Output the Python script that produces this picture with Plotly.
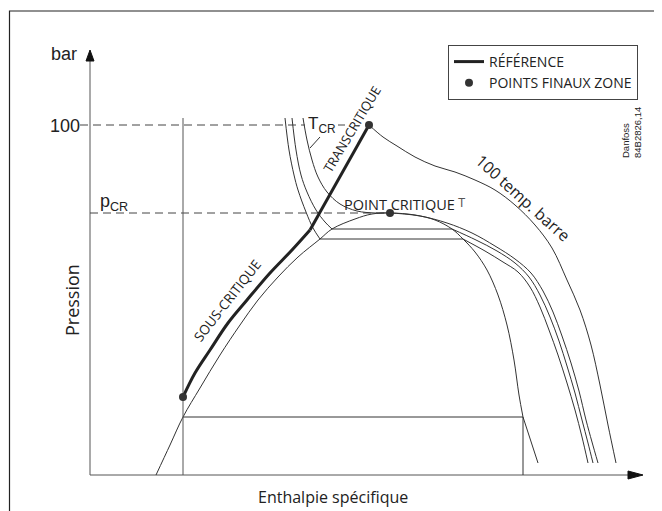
import plotly.graph_objects as go

# Schematic p-h diagram, units: h = enthalpy (schematic), p = pressure (schematic)
dome_h = [66, 80, 93, 110, 130, 150, 168, 188, 208, 230, 242, 265, 282, 300, 325, 345, 362, 373, 385, 397, 408, 417, 424, 429, 433]
dome_p = [0, 30, 58, 87, 120, 150, 175, 198, 218, 236, 246, 256, 261, 262, 260, 255, 246, 236, 223, 205, 180, 150, 115, 80, 58]
dome_tail_h = [433, 448]
dome_tail_p = [58, 12]

iso1_left_h = [195, 199, 204, 208, 216, 223, 230]
iso1_left_p = [357, 325, 300, 285, 263, 247, 236]
iso1_right_h = [373, 395, 413, 428, 440, 450, 459, 468, 477, 485, 492, 498]
iso1_right_p = [236, 224, 213, 203, 188, 168, 145, 120, 92, 65, 38, 12]

iso2_left_h = [202, 206, 211, 217, 226, 235, 242]
iso2_left_p = [357, 325, 300, 283, 265, 253, 246]
iso2_right_h = [362, 386, 407, 425, 439, 450, 460, 469, 477, 485, 492, 498, 503]
iso2_right_p = [246, 235, 224, 212, 198, 180, 158, 134, 109, 82, 55, 32, 12]

tcr_h = [213, 217, 222, 228, 237, 250, 267, 285, 300, 330, 357, 382, 405, 425, 441, 453, 463, 472, 481, 489, 496, 502, 508]
tcr_p = [357, 335, 315, 298, 283, 271, 264, 262, 262, 259, 252, 242, 229, 216, 202, 184, 163, 139, 112, 84, 55, 33, 12]

iso100_h = [279, 293, 307, 325, 345, 365, 385, 405, 425, 445, 462, 477, 490, 501, 510, 518, 526]
iso100_p = [350, 338, 329, 318, 309, 303, 295, 285, 270, 250, 227, 195, 165, 130, 90, 50, 12]

ref_curve_h = [93, 105, 120, 138, 157, 180, 202, 220]
ref_curve_p = [78, 102, 125, 152, 175, 202, 225, 245]
ref_line_h = [220, 279]
ref_line_p = [245, 350]

end_h = [93, 279, 300]
end_p = [78, 350, 262]

p100 = 350
p100_segments = [(-10, 215), (248, 255)]
p_cr = 262
h_cr = 300
plateau_p = [236, 246]
plateau_h0 = [230, 242]
plateau_h1 = [373, 362]
evap_p = 58
evap_h = [93, 433]
comp_h = 93
comp_top = 357
x_end = 553
y_end = 425

W, H = 654, 503

thin = dict(color="#333", width=1)
fig = go.Figure()

def add(h, p, line, shape="spline", **kw):
    fig.add_trace(go.Scatter(x=h, y=p, mode="lines", line=dict(shape=shape, **line),
                             hoverinfo="skip", showlegend=False, **kw))

# axes
add([0, 0], [0, y_end - 10], dict(color="#555", width=1), shape="linear")
add([0, x_end - 12], [0, 0], dict(color="#555", width=1), shape="linear")
fig.add_trace(go.Scatter(x=[-4, 4, 0, -4], y=[y_end - 11, y_end - 11, y_end, y_end - 11], mode="lines",
                         fill="toself", fillcolor="#111", line=dict(color="#111", width=1),
                         hoverinfo="skip", showlegend=False))
fig.add_trace(go.Scatter(x=[x_end - 15, x_end - 15, x_end, x_end - 15], y=[-4, 4, 0, -4], mode="lines",
                         fill="toself", fillcolor="#111", line=dict(color="#111", width=1),
                         hoverinfo="skip", showlegend=False))

# dashed reference lines
for a, b in p100_segments:
    add([a, b], [p100, p100], dict(color="#444", width=1, dash="8px,5px"), shape="linear")
add([0, h_cr], [p_cr, p_cr], dict(color="#444", width=1, dash="8px,5px"), shape="linear")

# dome
add(dome_h, dome_p, thin)
add(dome_tail_h, dome_tail_p, thin, shape="linear")

# isotherms
add(iso1_left_h, iso1_left_p, thin)
add(iso1_right_h, iso1_right_p, thin)
add(iso2_left_h, iso2_left_p, thin)
add(iso2_right_h, iso2_right_p, thin)
add(tcr_h, tcr_p, thin)
add(iso100_h, iso100_p, thin)
for pp, a, b in zip(plateau_p, plateau_h0, plateau_h1):
    add([a, b], [pp, pp], thin, shape="linear")

# cycle lines
add(evap_h, [evap_p, evap_p], thin, shape="linear")
add([comp_h, comp_h], [0, comp_top], dict(color="#555", width=1), shape="linear")
add([evap_h[1], evap_h[1]], [0, evap_p], thin, shape="linear")

# T_CR leader
add([220, 230], [327, 338], thin, shape="linear")

# reference line
fig.add_trace(go.Scatter(x=ref_curve_h, y=ref_curve_p, mode="lines", name="RÉFÉRENCE",
                         line=dict(color="#222", width=3, shape="spline"), legendgroup="ref",
                         hoverinfo="skip"))
fig.add_trace(go.Scatter(x=ref_line_h, y=ref_line_p, mode="lines", showlegend=False,
                         line=dict(color="#222", width=3), legendgroup="ref", hoverinfo="skip"))
fig.add_trace(go.Scatter(x=end_h, y=end_p, mode="markers", name="POINTS FINAUX ZONE",
                         marker=dict(color="#333", size=8), hoverinfo="skip"))

myr = "Open Sans"
ari = "Liberation Sans"
ann = [
    dict(x=-26, y=421, text="bar", font=dict(family=ari, size=18)),
    dict(x=-25, y=349, text="100", font=dict(family=ari, size=18)),
    dict(x=24, y=273, text="p<sub>CR</sub>", font=dict(family=ari, size=18)),
    dict(x=232, y=350, text="T<sub>CR</sub>", font=dict(family=ari, size=17)),
    dict(x=-18, y=175, text="Pression", textangle=-90, font=dict(family=myr, size=18)),
    dict(x=243, y=-22, text="Enthalpie spécifique", font=dict(family=myr, size=16)),
    dict(x=137, y=174, text="SOUS-CRITIQUE", textangle=-52, font=dict(family=myr, size=13.5)),
    dict(x=262, y=346, text="TRANSCRITIQUE", textangle=-59, font=dict(family=myr, size=13)),
    dict(x=309, y=271, text="POINT CRITIQUE", font=dict(family=myr, size=14.5)),
    dict(x=372, y=272, text="T", font=dict(family=ari, size=12, color="#555")),
    dict(x=433, y=277, text="100 temp. barre", textangle=42, font=dict(family=myr, size=16)),
    dict(x=541, y=342, text="Danfoss<br>84B2826,14", textangle=-90, align="left",
         font=dict(family=ari, size=9.5)),
]
for a in ann:
    a.setdefault("showarrow", False)
    a["font"].setdefault("color", "#222")
    fig.add_annotation(xref="x", yref="y", **a)

fig.add_shape(type="rect", xref="paper", yref="paper", x0=1.5 / W, x1=652.5 / W,
              y0=-0.05, y1=1 - 3 / H, line=dict(color="#222", width=1.2))

fig.update_layout(
    width=W, height=H, margin=dict(l=0, r=0, t=0, b=0),
    paper_bgcolor="white", plot_bgcolor="white",
    xaxis=dict(range=[-82, 572], visible=False, fixedrange=True),
    yaxis=dict(range=[-36, 467], visible=False, fixedrange=True),
    showlegend=True,
    legend=dict(x=440 / W, y=1 - 37 / H, xanchor="left", yanchor="top",
                bordercolor="#444", borderwidth=1, bgcolor="white",
                font=dict(family=myr, size=14, color="#222"), tracegroupgap=0),
)
fig.write_html("out.html")
